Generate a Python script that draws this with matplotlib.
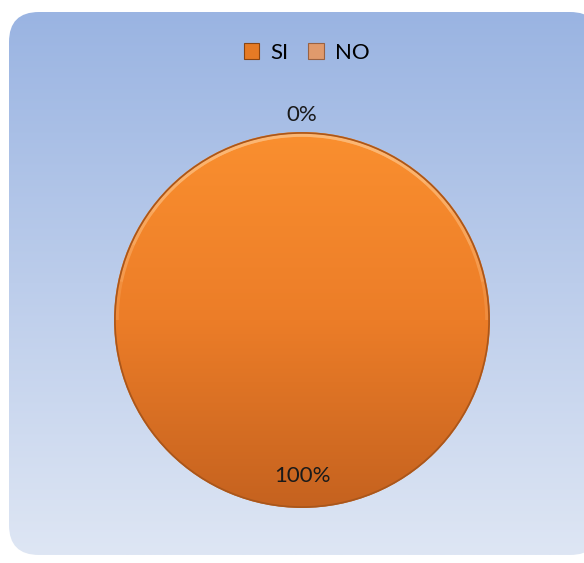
import numpy as np
import matplotlib
matplotlib.use("Agg")
import matplotlib.pyplot as plt
from matplotlib.patches import FancyBboxPatch, Rectangle, Circle, Arc
from matplotlib.colors import LinearSegmentedColormap

# datos
categorias = ["SI", "NO"]
valores = [100, 0]
etiquetas = ["100%", "0%"]

plt.rcParams['font.family'] = ['Lato', 'DejaVu Sans']

fig = plt.figure(figsize=(5.84, 5.63), dpi=100)
fig.patch.set_facecolor("white")

# fondo degradado con esquinas redondeadas
bg = fig.add_axes([0, 0, 1, 1])
bg.set_xlim(0, 584)
bg.set_ylim(563, 0)
bg.axis("off")
cmap_bg = LinearSegmentedColormap.from_list("bg", ["#9ab4e2", "#dee6f4"])
grad = np.linspace(0, 1, 256).reshape(-1, 1)
img = bg.imshow(grad, cmap=cmap_bg, extent=[9, 600, 555, 12], aspect="auto")
marco = FancyBboxPatch((9 + 30, 12 + 30), 600 - 9 - 60, 555 - 12 - 60,
                       boxstyle="round,pad=30,rounding_size=30",
                       facecolor="none", edgecolor="none")
bg.add_patch(marco)
img.set_clip_path(marco)

# pastel
ax = fig.add_axes([(302 - 188) / 584, 1 - (320 + 188) / 563, 376 / 584, 376 / 563])
ax.set_facecolor("none")
cuñas, _ = ax.pie(valores, startangle=90, counterclock=False,
                  colors=["#f7882c", "#e0a070"],
                  wedgeprops=dict(edgecolor="none", linewidth=0))
ax.set_xlim(-1.0, 1.0)
ax.set_ylim(-1.0, 1.0)
ax.set_aspect("equal")
ax.axis("off")

cmap_pie = LinearSegmentedColormap.from_list("pie", ["#fa8f2f", "#ec7d28", "#c5621f"])
g = ax.imshow(np.linspace(0, 1, 256).reshape(-1, 1), cmap=cmap_pie,
              extent=[-1, 1, -1, 1], aspect="auto", zorder=1.5)
g.set_clip_path(cuñas[0])
for w in cuñas:
    w.set_zorder(2)
    w.set_facecolor("none")

# borde y brillo
ax.add_patch(Circle((0, 0), 0.995, facecolor="none", edgecolor="#a9561b",
                    linewidth=1.2, zorder=3))
for i, a in enumerate(np.linspace(0.15, 0.75, 6)):
    span = 30 + i * 12
    ax.add_patch(Arc((0, 0), 1.965, 1.965, theta1=90 - span, theta2=90 + span,
                     color="#ffc58a", linewidth=2.2, alpha=0.22, zorder=2.5))

# etiquetas de porcentaje
distancias = [0.83, 1.09]
for w, txt, d in zip(cuñas, etiquetas, distancias):
    if w.theta2 - w.theta1 > 359:
        ang = np.deg2rad(-90)
    else:
        ang = np.deg2rad((w.theta1 + w.theta2) / 2)
    ax.text(d * np.cos(ang), d * np.sin(ang), txt, ha="center", va="center",
            fontsize=16, color="#1a1a1a", clip_on=False)

# leyenda
manejadores = [Rectangle((0, 0), 1, 1, facecolor=c, edgecolor=e, linewidth=0.8)
               for c, e in [("#e57a25", "#8a4512"), ("#e09a6c", "#9a6242")]]
fig.legend(manejadores, categorias, loc="center", bbox_to_anchor=(0.525, 1 - 53 / 563),
           ncol=2, frameon=False, fontsize=16, handlelength=0.7, handleheight=0.7,
           handletextpad=0.5, columnspacing=0.9)

fig.savefig("out.png", dpi=100)
